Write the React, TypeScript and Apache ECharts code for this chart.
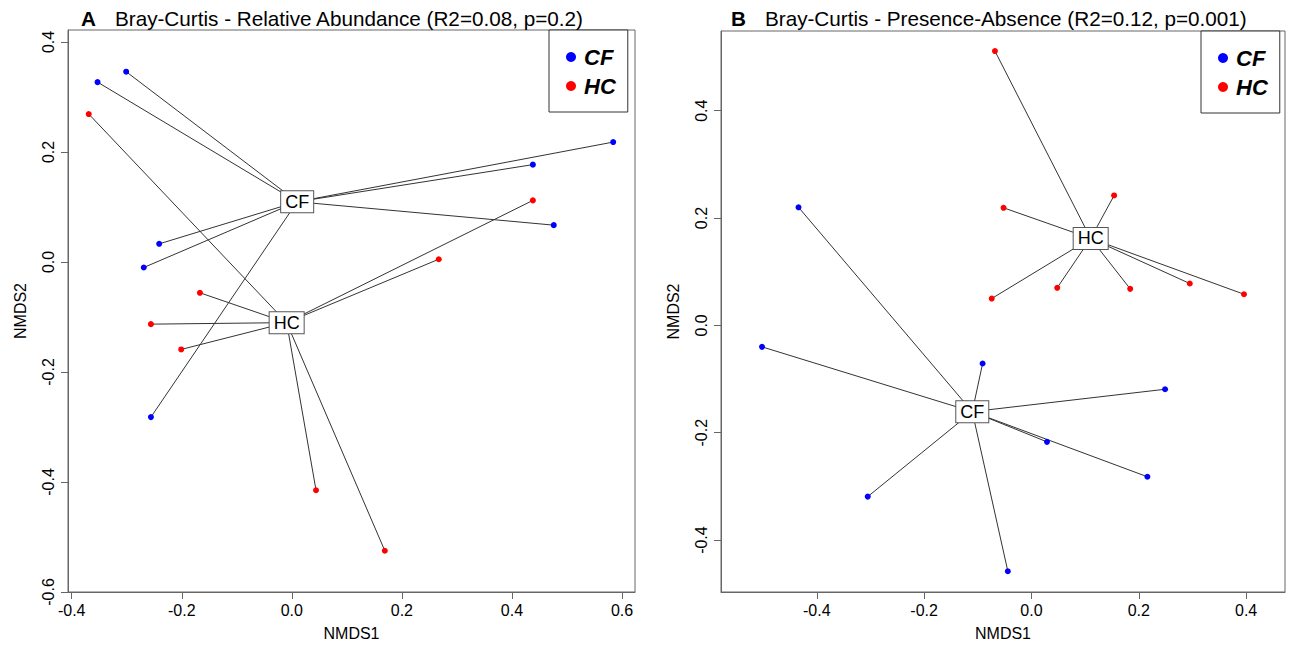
import React, { useEffect, useRef } from "react";
import * as echarts from "echarts";

// Panel A: Bray-Curtis - Relative Abundance
const A_CF_X = [-0.353, -0.301, -0.241, -0.269, -0.256, 0.584, 0.438, 0.476];
const A_CF_Y = [0.327, 0.346, 0.033, -0.010, -0.282, 0.218, 0.177, 0.067];
const A_HC_X = [-0.369, -0.167, -0.256, -0.201, 0.438, 0.267, 0.044, 0.169];
const A_HC_Y = [0.269, -0.056, -0.113, -0.159, 0.112, 0.005, -0.415, -0.525];

// Panel B: Bray-Curtis - Presence-Absence
const B_CF_X = [-0.434, -0.502, -0.091, -0.305, 0.249, 0.029, 0.216, -0.044];
const B_CF_Y = [0.220, -0.040, -0.071, -0.319, -0.119, -0.217, -0.282, -0.458];
const B_HC_X = [-0.068, 0.154, -0.052, -0.074, 0.048, 0.184, 0.295, 0.396];
const B_HC_Y = [0.511, 0.242, 0.219, 0.050, 0.070, 0.068, 0.078, 0.058];

const GROUPS = ["CF", "HC"];
const GROUP_COLORS = ["#0000FF", "#FF0000"];

const A_X_TICKS = [-0.4, -0.2, 0, 0.2, 0.4, 0.6];
const A_Y_TICKS = [-0.6, -0.4, -0.2, 0, 0.2, 0.4];
const B_X_TICKS = [-0.4, -0.2, 0, 0.2, 0.4];
const B_Y_TICKS = [-0.4, -0.2, 0, 0.2, 0.4];

const TITLE_A = "Bray-Curtis - Relative Abundance (R2=0.08, p=0.2)";
const TITLE_B = "Bray-Curtis - Presence-Absence (R2=0.12, p=0.001)";

const FONT = "'Liberation Sans', Arial, Helvetica, sans-serif";
const BOX = "#666666";

const mean = (a: number[]) => a.reduce((s, v) => s + v, 0) / a.length;

function axisPair(idx: number, xTicks: number[], yTicks: number[], xr: number[], yr: number[]) {
  const common = {
    gridIndex: idx,
    type: "value" as const,
    splitLine: { show: false },
    axisLine: { show: true, onZero: false, lineStyle: { color: BOX, width: 1 } },
    nameTextStyle: { fontFamily: FONT, fontSize: 16, color: "#000" },
    nameLocation: "middle" as const,
  };
  const x = {
    ...common,
    position: "bottom" as const,
    min: xr[0],
    max: xr[1],
    name: "NMDS1",
    nameGap: 33,
    axisTick: { show: true, customValues: xTicks, length: 7, lineStyle: { color: BOX } },
    axisLabel: {
      show: true,
      customValues: xTicks,
      formatter: (v: number) => v.toFixed(1),
      fontFamily: FONT,
      fontSize: 16,
      color: "#000",
      margin: 10,
    },
  };
  const y = {
    ...common,
    position: "left" as const,
    min: yr[0],
    max: yr[1],
    name: "NMDS2",
    nameGap: 40,
    axisTick: { show: true, customValues: yTicks, length: 7, lineStyle: { color: BOX } },
    axisLabel: {
      show: true,
      customValues: yTicks,
      formatter: (v: number) => v.toFixed(1),
      fontFamily: FONT,
      fontSize: 16,
      color: "#000",
      rotate: 90,
      margin: 12,
    },
  };
  return { x, y };
}

function panelSeries(idx: number, groupsX: number[][], groupsY: number[][]) {
  const series: any[] = [];
  const centroids = groupsX.map((gx, g) => [mean(gx), mean(groupsY[g])]);
  const lineData: any[] = [];
  groupsX.forEach((gx, g) => {
    gx.forEach((vx, i) => {
      lineData.push({ coords: [centroids[g], [vx, groupsY[g][i]]] });
    });
  });
  series.push({
    type: "lines",
    coordinateSystem: "cartesian2d",
    xAxisIndex: idx,
    yAxisIndex: idx,
    data: lineData,
    lineStyle: { color: "#333333", width: 1, opacity: 1 },
    silent: true,
    z: 2,
  });
  groupsX.forEach((gx, g) => {
    series.push({
      type: "scatter",
      name: GROUPS[g],
      xAxisIndex: idx,
      yAxisIndex: idx,
      data: gx.map((vx, i) => [vx, groupsY[g][i]]),
      symbol: "circle",
      symbolSize: 6,
      itemStyle: { color: GROUP_COLORS[g], opacity: 1 },
      z: 3,
    });
  });
  series.push({
    type: "scatter",
    name: "centroids" + idx,
    xAxisIndex: idx,
    yAxisIndex: idx,
    data: centroids.map((c, g) => ({ value: c, name: GROUPS[g] })),
    symbolSize: 1,
    itemStyle: { color: "rgba(0,0,0,0)", opacity: 1 },
    label: {
      show: true,
      position: "inside",
      formatter: (p: any) => p.name,
      fontFamily: FONT,
      fontSize: 18,
      color: "#000000",
      opacity: 1,
      backgroundColor: "#ffffff",
      borderColor: "#555555",
      borderWidth: 1,
      padding: [2, 4, 1, 4],
    },
    z: 5,
  });
  return series;
}

export default function App() {
  const ref = useRef<HTMLDivElement>(null);
  useEffect(() => {
    document.body.style.margin = "0";
    if (!ref.current) return;
    const chart = echarts.init(ref.current, undefined, { renderer: "svg" });
    const pa = axisPair(0, A_X_TICKS, A_Y_TICKS, [-0.4067, 0.6236], [-0.6, 0.4218]);
    const pb = axisPair(1, B_X_TICKS, B_Y_TICKS, [-0.5784, 0.4724], [-0.4967, 0.5484]);
    const legendCommon = {
      orient: "vertical" as const,
      data: GROUPS,
      icon: "circle",
      itemWidth: 10,
      itemHeight: 10,
      itemGap: 5,
      padding: [15, 12, 14, 17],
      borderColor: "#333333",
      borderWidth: 1,
      backgroundColor: "#ffffff",
      selectedMode: false,
      textStyle: {
        fontFamily: FONT,
        fontSize: 22,
        fontWeight: "bold" as const,
        fontStyle: "italic" as const,
        color: "#000",
        lineHeight: 24,
        padding: [0, 0, 0, 3],
      },
    };
    const titleRich = {
      l: { fontFamily: FONT, fontSize: 20.7, fontWeight: "bold" as const, color: "#000", padding: [0, 19, 0, 0] },
      t: { fontFamily: FONT, fontSize: 20.7, fontWeight: "normal" as const, color: "#000" },
    };
    chart.setOption({
      animation: false,
      backgroundColor: "#ffffff",
      title: [
        { text: "{l|A}{t|" + TITLE_A + "}", left: 81, top: 8, padding: 0, textStyle: { fontWeight: "normal", rich: titleRich } },
        { text: "{l|B}{t|" + TITLE_B + "}", left: 731, top: 8, padding: 0, textStyle: { fontWeight: "normal", rich: titleRich } },
      ],
      legend: [
        { ...legendCommon, left: 549, top: 30 },
        { ...legendCommon, left: 1201, top: 31 },
      ],
      grid: [
        { left: 68, top: 30, width: 567, height: 562, show: true, borderColor: BOX, borderWidth: 1, backgroundColor: "transparent" },
        { left: 721, top: 31, width: 564, height: 561, show: true, borderColor: BOX, borderWidth: 1, backgroundColor: "transparent" },
      ],
      xAxis: [pa.x, pb.x],
      yAxis: [pa.y, pb.y],
      series: [
        ...panelSeries(0, [A_CF_X, A_HC_X], [A_CF_Y, A_HC_Y]),
        ...panelSeries(1, [B_CF_X, B_HC_X], [B_CF_Y, B_HC_Y]),
      ],
    });
    return () => chart.dispose();
  }, []);
  return <div ref={ref} style={{ position: "fixed", left: 0, top: 0, width: 1291, height: 647 }} />;
}
